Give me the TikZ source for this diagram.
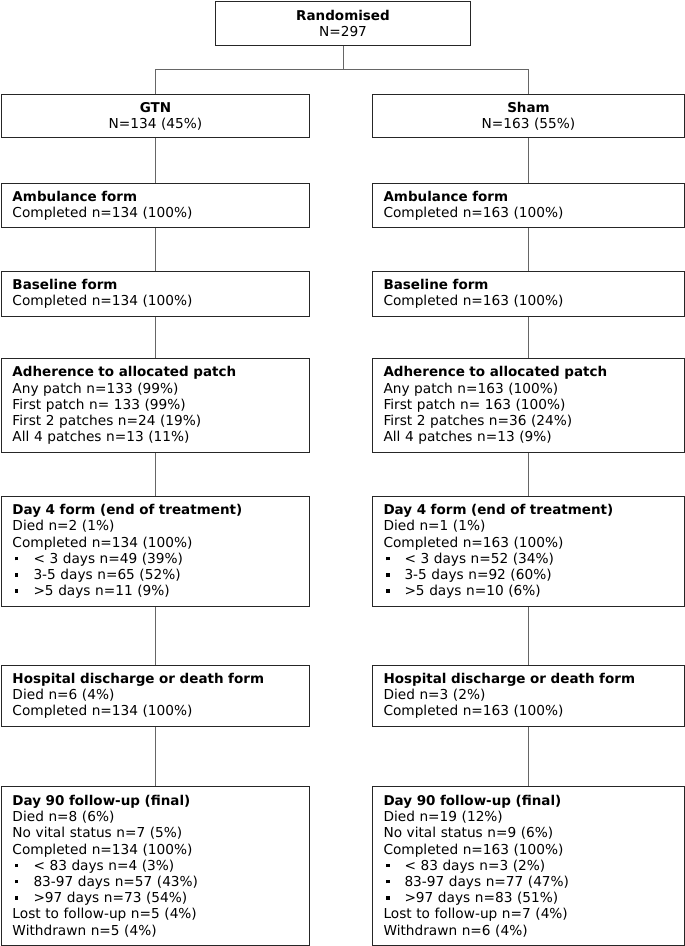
\documentclass[tikz,border=0pt]{standalone}
\usepackage{fontspec}
\setmainfont{DejaVu Sans}[BoldFeatures={Scale=0.985}]
\newcommand\bul{\makebox[21pt][l]{\hspace{2.5pt}\rule[3pt]{3.5pt}{3.5pt}}}
\begin{document}
\begin{tikzpicture}[x=1pt,y=-1pt,
  box/.style={draw=black!85, line width=1pt, rectangle, inner xsep=11pt, inner ysep=0pt,
    anchor=north west, font=\fontsize{13.7}{16.2}\selectfont},
  lbox/.style={box, align=left, text width=286pt, minimum height=#1},
  rbox/.style={box, align=left, text width=290pt, minimum height=#1},
  cbox/.style={box, align=center, minimum height=#1},
  conn/.style={draw=black!60, line width=0.9pt}]
\useasboundingbox (0,0) rectangle (685,946);

\node[cbox=44, text width=233pt] (rand) at (215,1) {\textbf{Randomised}\\N=297};
\node[cbox=43, text width=286pt] (gtn) at (1,94) {\textbf{GTN}\\N=134 (45\%)};
\node[cbox=43, text width=290pt] (sham) at (372,94) {\textbf{Sham}\\N=163 (55\%)};

\node[lbox=44] (ambL) at (1,183) {\textbf{Ambulance form}\\Completed n=134 (100\%)};
\node[rbox=44] (ambR) at (372,183) {\textbf{Ambulance form}\\Completed n=163 (100\%)};

\node[lbox=45] (baseL) at (1,271) {\textbf{Baseline form}\\Completed n=134 (100\%)};
\node[rbox=45] (baseR) at (372,271) {\textbf{Baseline form}\\Completed n=163 (100\%)};

\node[lbox=94] (adhL) at (1,358) {\textbf{Adherence to allocated patch}\\Any patch n=133 (99\%)\\First patch n= 133 (99\%)\\First 2 patches n=24 (19\%)\\All 4 patches n=13 (11\%)};
\node[rbox=94] (adhR) at (372,358) {\textbf{Adherence to allocated patch}\\Any patch n=163 (100\%)\\First patch n= 163 (100\%)\\First 2 patches n=36 (24\%)\\All 4 patches n=13 (9\%)};

\node[lbox=110] (d4L) at (1,496) {\textbf{Day 4 form (end of treatment)}\\Died n=2 (1\%)\\Completed n=134 (100\%)\\\bul< 3 days n=49 (39\%)\\\bul 3-5 days n=65 (52\%)\\\bul>5 days n=11 (9\%)};
\node[rbox=110] (d4R) at (372,496) {\textbf{Day 4 form (end of treatment)}\\Died n=1 (1\%)\\Completed n=163 (100\%)\\\bul< 3 days n=52 (34\%)\\\bul 3-5 days n=92 (60\%)\\\bul>5 days n=10 (6\%)};

\node[lbox=61] (hospL) at (1,665) {\textbf{Hospital discharge or death form}\\Died n=6 (4\%)\\Completed n=134 (100\%)};
\node[rbox=61] (hospR) at (372,665) {\textbf{Hospital discharge or death form}\\Died n=3 (2\%)\\Completed n=163 (100\%)};

\node[lbox=159] (d90L) at (1,786) {\textbf{Day 90 follow-up (final)}\\Died n=8 (6\%)\\No vital status n=7 (5\%)\\Completed n=134 (100\%)\\\bul< 83 days n=4 (3\%)\\\bul 83-97 days n=57 (43\%)\\\bul>97 days n=73 (54\%)\\Lost to follow-up n=5 (4\%)\\Withdrawn n=5 (4\%)};
\node[rbox=159] (d90R) at (372,786) {\textbf{Day 90 follow-up (final)}\\Died n=19 (12\%)\\No vital status n=9 (6\%)\\Completed n=163 (100\%)\\\bul< 83 days n=3 (2\%)\\\bul 83-97 days n=77 (47\%)\\\bul>97 days n=83 (51\%)\\Lost to follow-up n=7 (4\%)\\Withdrawn n=6 (4\%)};

\path (rand.south) ++(0,23.5) coordinate (split);
\draw[conn] (rand.south) -- (split);
\draw[conn] (gtn.north) |- (split) -| (sham.north);
\foreach \a/\b in {gtn/ambL,ambL/baseL,baseL/adhL,adhL/d4L,d4L/hospL,hospL/d90L,
                   sham/ambR,ambR/baseR,baseR/adhR,adhR/d4R,d4R/hospR,hospR/d90R}
  \draw[conn] (\a.south) -- (\b.north);
\end{tikzpicture}
\end{document}
